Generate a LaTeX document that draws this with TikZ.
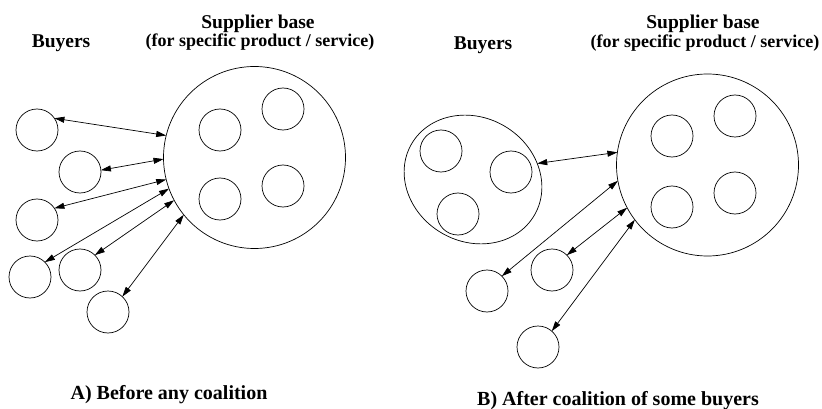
\documentclass[tikz,border=0pt]{standalone}
\usepackage{fontspec}
\setmainfont{Liberation Serif}
\usetikzlibrary{shapes.geometric,arrows.meta}
\begin{document}
\begin{tikzpicture}[x=1pt,y=-1pt,
  every node/.style={inner sep=0pt, outer sep=0pt},
  small/.style={circle, draw, line width=0.7pt, minimum size=42pt},
  big/.style={circle, draw, line width=0.7pt, minimum size=182pt},
  coal/.style={ellipse, draw, line width=0.7pt, minimum width=142pt, minimum height=124pt, rotate=-30},
  link/.style={line width=0.7pt, {Triangle[length=10pt,width=6pt]}-{Triangle[length=10pt,width=6pt]}},
  headtxt/.style={font=\fontsize{19.5}{22}\selectfont\bfseries, anchor=base},
  subtxt/.style={font=\fontsize{18}{20}\selectfont\bfseries, anchor=base},
  captxt/.style={font=\fontsize{20}{22}\selectfont\bfseries, anchor=base}
]
\useasboundingbox (0,0) rectangle (822,409);

% ---------- Panel A ----------
\node[headtxt] (buyA) at (61,48) {Buyers};
\node[headtxt] (supA) at (258,29) {Supplier base};
\node[subtxt] (specA) at (260,47) {(for specific product / service)};
\node[captxt] (capA) at (169,399) {A) Before any coalition};

\node[big] (L) at (254.5,157.5) {};
\node[small] (L1) at (220,130) {};
\node[small] (L2) at (283,109) {};
\node[small] (L3) at (220,199) {};
\node[small] (L4) at (283,186) {};

\node[small] (b1) at (37,130) {};
\node[small] (b2) at (80,172) {};
\node[small] (b3) at (37,220) {};
\node[small] (b4) at (30,277) {};
\node[small] (b5) at (80,270) {};
\node[small] (b6) at (108,312) {};

\draw[link] (b1.34) -- (L.166);
\draw[link] (b2.5) -- (L.181);
\draw[link] (b3.34) -- (L.194);
\draw[link] (b4.45) -- (L.200);
\draw[link] (b5.45) -- (L.208);
\draw[link] (b6.47) -- (L.219);

% ---------- Panel B ----------
\node[headtxt] (buyB) at (483,50) {Buyers};
\node[headtxt] (supB) at (703,29) {Supplier base};
\node[subtxt] (specB) at (705,48) {(for specific product / service)};
\node[captxt] (capB) at (618,405) {B) After coalition of some buyers};

\node[big] (R) at (707.5,165) {};
\node[small] (R1) at (672,136) {};
\node[small] (R2) at (735,116) {};
\node[small] (R3) at (672,207) {};
\node[small] (R4) at (735,193) {};

\node[coal] (E) at (473,179.5) {};
\node[small] (E1) at (441,151) {};
\node[small] (E2) at (511,172) {};
\node[small] (E3) at (458,214) {};

\node[small] (c1) at (487,291) {};
\node[small] (c2) at (552,270) {};
\node[small] (c3) at (538,347) {};

\draw[link] (E.44) -- (R.172);
\draw[link] (c1.45) -- (R.190);
\draw[link] (c2.45) -- (R.208);
\draw[link] (c3.49) -- (R.217);
\end{tikzpicture}
\end{document}
